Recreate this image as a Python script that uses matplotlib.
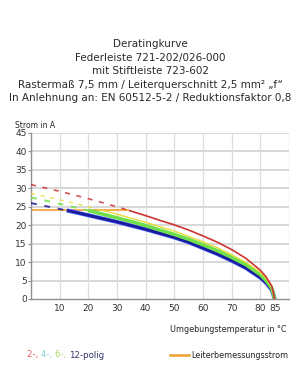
import matplotlib
matplotlib.use("Agg")
import matplotlib.pyplot as plt

# ---------------- data ----------------
temp = [0, 5, 10, 15, 20, 25, 30, 35, 40, 45, 50, 55, 60, 65, 70, 75, 80, 82, 84, 85]
i_2pol = [31.0, 30.1, 29.2, 28.2, 27.2, 26.1, 25.0, 23.8, 22.6, 21.3, 20.1, 18.7, 17.1, 15.4, 13.4, 11.0, 7.8, 6.0, 3.5, 0.0]
i_4pol = [28.6, 27.8, 26.9, 26.0, 25.0, 24.0, 23.0, 21.9, 20.8, 19.6, 18.4, 17.0, 15.5, 13.9, 12.0, 9.9, 7.2, 5.6, 3.2, 0.0]
i_6pol = [27.5, 26.7, 25.8, 24.9, 24.0, 23.0, 22.0, 21.0, 19.9, 18.7, 17.5, 16.2, 14.7, 13.1, 11.3, 9.3, 6.6, 5.0, 2.9, 0.0]
i_12pol = [26.0, 25.2, 24.4, 23.6, 22.7, 21.8, 20.9, 19.9, 18.9, 17.8, 16.7, 15.4, 13.8, 12.2, 10.4, 8.4, 5.8, 4.4, 2.5, 0.0]
rated_current = 24.0
rated_temp = [0, 34]

xticks = [10, 20, 30, 40, 50, 60, 70, 80, 85]
yticks = [0, 5, 10, 15, 20, 25, 30, 35, 40, 45]

title_lines = [
    "Deratingkurve",
    "Federleiste 721-202/026-000",
    "mit Stiftleiste 723-602",
    "Rastermaß 7,5 mm / Leiterquerschnitt 2,5 mm² „f“",
    "In Anlehnung an: EN 60512-5-2 / Reduktionsfaktor 0,8",
]

W, H = 300, 374
fig = plt.figure(figsize=(W / 100, H / 100), dpi=100)
ax = fig.add_axes([31 / W, 1 - 299 / H, (289 - 31) / W, (299 - 133) / H])
ax.set_xlim(0, 90)
ax.set_ylim(0, 45)

# grid
for y in yticks[1:]:
    ax.axhline(y, color="#d4d4d4", lw=1.3, zorder=0)
for x in [10, 20, 30, 40, 50, 60, 70, 80, 90]:
    ax.axvline(x, color="#dddddd", lw=0.9, zorder=0)


def split_at(xs, ys, limit):
    """split series where it crosses the rated current value"""
    dx, dy, sx, sy = [], [], [], []
    for k in range(len(xs)):
        if ys[k] > limit:
            dx.append(xs[k]); dy.append(ys[k])
        else:
            sx.append(xs[k]); sy.append(ys[k])
    k = len(dx)
    if 0 < k < len(xs):
        x0, x1, y0, y1 = xs[k - 1], xs[k], ys[k - 1], ys[k]
        xc = x0 + (y0 - limit) * (x1 - x0) / (y0 - y1)
        dx.append(xc); dy.append(limit)
        sx.insert(0, xc); sy.insert(0, limit)
    return dx, dy, sx, sy


series = [
    (i_12pol, "#1c1c9a", 2.0, "#4a64ff", 3.0),
    (i_6pol, "#6fe04a", 2.6, None, 0),
    (i_4pol, "#e6dc3c", 1.0, None, 0),
    (i_2pol, "#cc3333", 1.2, None, 0),
]

ax.plot(rated_temp, [rated_current] * 2, color="#f0a030", lw=1.2, zorder=2)
for ys, col, lw, halo, hlw in series:
    dx, dy, sx, sy = split_at(temp, ys, rated_current)
    if halo:
        ax.plot(sx, sy, color=halo, lw=hlw, zorder=3, solid_capstyle="butt")
    ax.plot(sx, sy, color=col, lw=lw, zorder=4, solid_capstyle="butt")
    ax.plot(dx, dy, color=col, lw=min(lw, 1.4), ls=(0, (3, 4)), zorder=4, alpha=0.85)

for s in ["top", "right"]:
    ax.spines[s].set_visible(False)
for s in ["left", "bottom"]:
    ax.spines[s].set_color("#909090")
    ax.spines[s].set_linewidth(1.0)

ax.set_xticks(xticks)
ax.set_yticks(yticks)
ax.set_xticklabels([str(v) for v in xticks])
ax.set_yticklabels([str(v) for v in yticks])
ax.tick_params(axis="y", length=2.5, width=0.8, color="#909090", pad=0.5,
               labelsize=6.5, labelcolor="#333333")
ax.tick_params(axis="x", length=0, pad=3.5, labelsize=6.5, labelcolor="#333333")

# titles
ys_px = [44, 58, 71, 84.5, 98]
for t, yp in zip(title_lines, ys_px):
    fig.text(0.5, 1 - yp / H, t, ha="center", va="center", fontsize=7.5,
             color="#2a2a2a", family="DejaVu Sans")

fig.text(15 / W, 1 - 126 / H, "Strom in A", ha="left", va="center",
         fontsize=5.5, color="#222222")
fig.text(287 / W, 1 - 329 / H, "Umgebungstemperatur in °C", ha="right",
         va="center", fontsize=5.8, color="#222222")

# legend
fig.canvas.draw()
r = fig.canvas.get_renderer()
xpos = 27
for txt, col in [("2-, ", "#e86060"), ("4-, ", "#88d0dc"), ("6-, ", "#a8d860"),
                 ("12-polig", "#333366")]:
    t = fig.text(xpos / W, 1 - 355 / H, txt, ha="left", va="center",
                 fontsize=6.2, color=col)
    bb = t.get_window_extent(renderer=r)
    xpos += bb.width
fig.add_artist(plt.Line2D([170 / W, 189 / W], [1 - 355 / H] * 2,
                          color="#f0a030", lw=1.8))
fig.text(191 / W, 1 - 355 / H, "Leiterbemessungsstrom", ha="left",
         va="center", fontsize=5.8, color="#222222")

fig.savefig("out.png", dpi=100)
